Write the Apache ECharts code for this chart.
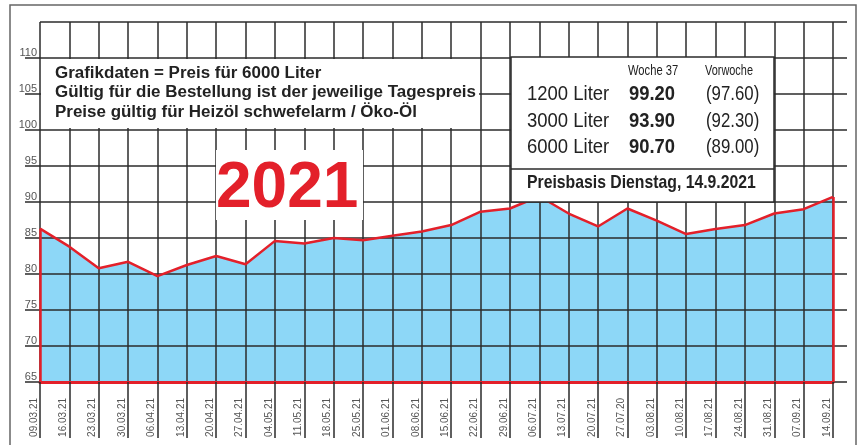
<!DOCTYPE html>
<html>
<head>
<meta charset="utf-8">
<script src="https://cdn.jsdelivr.net/npm/echarts@6/dist/echarts.min.js"></script>
<style>
html,body{margin:0;padding:0;background:#fff;}
#chart{width:863px;height:445px;}
</style>
</head>
<body>
<div id="chart"></div>
<script>
const categories = ['09.03.21','16.03.21','23.03.21','30.03.21','06.04.21','13.04.21','20.04.21','27.04.21','04.05.21','11.05.21','18.05.21','25.05.21','01.06.21','08.06.21','15.06.21','22.06.21','29.06.21','06.07.21','13.07.21','20.07.21','27.07.20','03.08.21','10.08.21','17.08.21','24.08.21','31.08.21','07.09.21','14.09.21'];
const prices = [86.3, 83.8, 80.8, 81.7, 79.7, 81.25, 82.5, 81.35, 84.6, 84.25, 85.0, 84.7, 85.3, 85.9, 86.8, 88.65, 89.1, 90.8, 88.4, 86.6, 89.1, 87.4, 85.55, 86.25, 86.8, 88.4, 89.0, 90.7];
const yMin = 65, yMax = 115, yStep = 5;
const infoLines = ['Grafikdaten = Preis für 6000 Liter', 'Gültig für die Bestellung ist der jeweilige Tagespreis', 'Preise gültig für Heizöl schwefelarm / Öko-Öl'];
const yearLabel = '2021';
const colHeads = ['Woche 37', 'Vorwoche'];
const qtyLabels = ['1200 Liter', '3000 Liter', '6000 Liter'];
const priceThisWeek = ['99.20', '93.90', '90.70'];
const pricePrevWeek = ['(97.60)', '(92.30)', '(89.00)'];
const basisLabel = 'Preisbasis Dienstag, 14.9.2021';

const RED = '#e3202a', BLUE = '#8dd7f7', GRID = '#2b2b2b', LABEL = '#555';
const FF = '"Liberation Sans", Arial, Helvetica, sans-serif';

const chart = echarts.init(document.getElementById('chart'), null, {renderer: 'canvas'});

const graphics = [];
graphics.push({type:'rect', z:1, silent:true, shape:{x:10, y:5, width:846, height:470}, style:{fill:'none', stroke:'#666', lineWidth:1.5}});
function ctext(txt, x, y, font, sx, color){
  return {type:'text', z:102, x:x, y:y, scaleX:sx, style:{x:0, y:0, text:txt, font:font, fill:color || '#222', textVerticalAlign:'middle'}};
}
// info text box
graphics.push({type:'rect', z:100, shape:{x:41, y:59, width:438, height:69}, style:{fill:'#fff'}});
const infoY = [74, 93, 113];
infoLines.forEach((t,i)=>graphics.push(ctext(t, 55, infoY[i], 'bold 16px '+FF, 1.06)));
// year box
graphics.push({type:'rect', z:100, shape:{x:216, y:150, width:147, height:70}, style:{fill:'#fff'}});
graphics.push(ctext(yearLabel, 216, 189, 'bold 64px '+FF, 1, RED));
// price table box
graphics.push({type:'rect', z:100, shape:{x:511, y:57, width:263, height:145}, style:{fill:'#fff', stroke:GRID, lineWidth:1.5}});
graphics.push({type:'line', z:101, shape:{x1:511, y1:169, x2:774, y2:169}, style:{stroke:GRID, lineWidth:1.5}});
graphics.push(ctext(colHeads[0], 628, 71, '14px '+FF, 0.8));
graphics.push(ctext(colHeads[1], 705, 71, '14px '+FF, 0.78));
const rowY = [94, 121, 147];
qtyLabels.forEach((t,i)=>{
  graphics.push(ctext(t, 527, rowY[i], '21px '+FF, 0.88));
  graphics.push(ctext(priceThisWeek[i], 629, rowY[i], 'bold 21px '+FF, 0.875));
  graphics.push(ctext(pricePrevWeek[i], 706, rowY[i], '21px '+FF, 0.8));
});
graphics.push(ctext(basisLabel, 527, 183, 'bold 19px '+FF, 0.83));

const option = {
  animation: false,
  backgroundColor: '#fff',
  grid: {left: 40, right: 30, top: 22, bottom: 63, containLabel: false},
  xAxis: {
    type: 'category', data: categories, boundaryGap: false, z: 3,
    axisLine: {show: true, onZero: false, lineStyle: {color: RED, width: 3}},
    axisTick: {show: true, interval: 0, length: 56, lineStyle: {color: GRID, width: 1.5}},
    axisLabel: {interval: 0, rotate: 90, margin: 16, fontSize: 10, color: LABEL, fontFamily: FF, verticalAlign: 'bottom', lineHeight: 12},
    splitLine: {show: true, interval: 0, lineStyle: {color: GRID, width: 1.5}}
  },
  yAxis: [{
    type: 'value', min: yMin, max: yMax, interval: yStep, z: 3,
    axisLine: {show: false},
    axisTick: {show: true, length: 15, lineStyle: {color: GRID, width: 1.5}},
    axisLabel: {showMaxLabel: false, margin: 3, fontSize: 11, color: LABEL, fontFamily: FF, verticalAlign: 'bottom'},
    splitLine: {show: true, lineStyle: {color: GRID, width: 1.5}}
  },{
    type: 'value', position: 'right', min: yMin, max: yMax, interval: yStep, z: 3,
    axisLine: {show: false},
    axisTick: {show: true, length: 14, lineStyle: {color: GRID, width: 1.5}},
    axisLabel: {show: false},
    splitLine: {show: false}
  }],
  series: [{
    type: 'line', data: prices, z: 1, symbol: 'none', silent: true,
    lineStyle: {width: 0, opacity: 0},
    areaStyle: {color: BLUE, opacity: 1, origin: 'start'}
  },{
    type: 'line', data: prices, z: 5, symbol: 'none', silent: true,
    lineStyle: {color: RED, width: 2.5},
    markLine: {
      silent: true, symbol: 'none', label: {show: false},
      lineStyle: {color: RED, width: 2.5, type: 'solid'},
      data: [
        [{coord: [categories[0], yMin]}, {coord: [categories[0], prices[0]]}],
        [{coord: [categories[categories.length-1], yMin]}, {coord: [categories[categories.length-1], prices[prices.length-1]]}]
      ]
    }
  }],
  graphic: graphics
};
chart.setOption(option);
</script>
</body>
</html>
